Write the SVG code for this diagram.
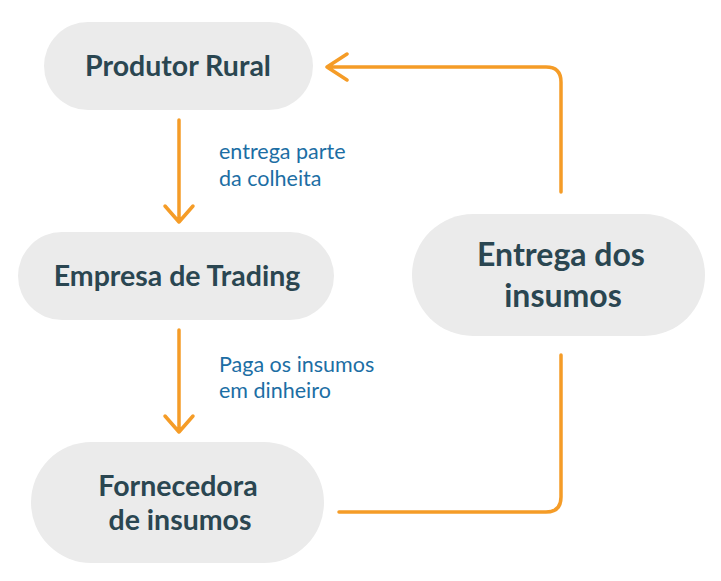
<svg xmlns="http://www.w3.org/2000/svg" width="721" height="581" viewBox="0 0 721 581">
<defs>
<style>
.pill{fill:#EBEBEB}
.t{font-family:Lato,"Liberation Sans",sans-serif;font-weight:bold;fill:#2A4651;text-anchor:middle}
.lbl{font-family:Lato,"Liberation Sans",sans-serif;font-size:21.5px;fill:#1C6EA4}
.c{fill:none;stroke:#F59C27;stroke-width:3.5;stroke-linecap:round;stroke-linejoin:round}
</style>
</defs>
<rect width="721" height="581" fill="#FFFFFF"/>
<g id="produtor">
<rect class="pill" x="44" y="22" width="269" height="88" rx="44"/>
<text class="t" x="178" y="76" font-size="28.5">Produtor Rural</text>
</g>
<g id="empresa">
<rect class="pill" x="18" y="232" width="316" height="88" rx="44"/>
<text class="t" x="177" y="286" font-size="28.5">Empresa de Trading</text>
</g>
<g id="entrega">
<rect class="pill" x="412" y="214" width="293" height="122" rx="61"/>
<text class="t" x="561" y="266" font-size="32">Entrega dos</text>
<text class="t" x="563" y="307" font-size="32">insumos</text>
</g>
<g id="fornecedora">
<rect class="pill" x="31" y="442" width="293" height="121" rx="60.5"/>
<text class="t" x="178" y="496" font-size="28.5">Fornecedora</text>
<text class="t" x="180" y="530" font-size="28.5">de insumos</text>
</g>
<g id="connectors">
<path class="c" d="M179 120 V222 M165 206 L179 222 L193 206"/>
<text class="lbl" x="219" y="159">entrega parte</text>
<text class="lbl" x="219" y="186">da colheita</text>
<path class="c" d="M179 330 V432 M165 416 L179 432 L193 416"/>
<text class="lbl" x="219" y="372">Paga os insumos</text>
<text class="lbl" x="219" y="398">em dinheiro</text>
<path class="c" d="M561 192 V82 Q561 67 546 67 H327 M347 54 L327 67 L347 80"/>
<path class="c" d="M339 512 H546 Q561 512 561 497 V355"/>
</g>
</svg>
